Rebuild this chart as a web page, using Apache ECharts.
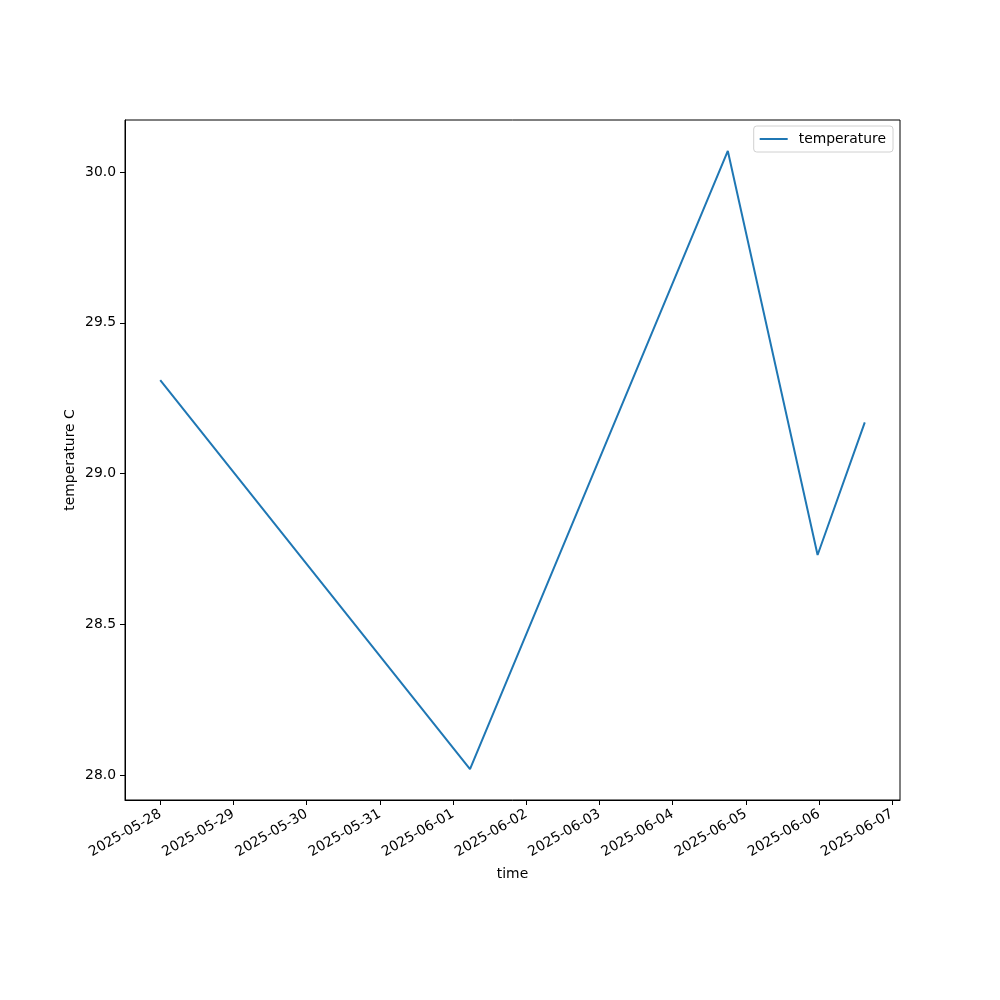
<!DOCTYPE html>
<html>
<head>
<meta charset="utf-8">
<script src="https://cdn.jsdelivr.net/npm/echarts@6/dist/echarts.min.js"></script>
<style>html,body{margin:0;padding:0;background:#fff}#c{width:1000px;height:1000px}</style>
</head>
<body>
<div id="c"></div>
<script>
const times = ['2025-05-28T00:00:00Z','2025-06-01T05:34:00Z','2025-06-04T18:06:00Z','2025-06-05T23:32:00Z','2025-06-06T15:00:00Z'];
const temperature = [29.31, 28.02, 30.07, 28.73, 29.17];
const xTickLabels = ['2025-05-28','2025-05-29','2025-05-30','2025-05-31','2025-06-01','2025-06-02','2025-06-03','2025-06-04','2025-06-05','2025-06-06','2025-06-07'];
const yTicks = [28.0, 28.5, 29.0, 29.5, 30.0];

const tms = times.map(t => new Date(t).getTime());
const xTickVals = xTickLabels.map(d => new Date(d + 'T00:00:00Z').getTime());
const tmin = Math.min(...tms), tmax = Math.max(...tms);
const tspan = tmax - tmin;
const vmin = Math.min(...temperature), vmax = Math.max(...temperature);
const vspan = vmax - vmin;
const pad = n => String(n).padStart(2, '0');
const fmt = v => { const d = new Date(v); return d.getUTCFullYear() + '-' + pad(d.getUTCMonth() + 1) + '-' + pad(d.getUTCDate()); };
const font = 'DejaVu Sans';
const fs = 13.9;

const chart = echarts.init(document.getElementById('c'), null, {renderer: 'canvas'});
chart.setOption({
  animation: false,
  backgroundColor: '#fff',
  textStyle: {fontFamily: font},
  grid: {left: 125, right: 100, top: 120, bottom: 200, show: true, borderColor: '#000', borderWidth: 1, containLabel: false},
  legend: {
    show: true, right: 107, top: 126, orient: 'vertical',
    data: [{name: 'temperature', icon: 'rect'}],
    itemWidth: 28, itemHeight: 2,
    borderColor: '#d0d0d0', borderWidth: 1, borderRadius: 3,
    padding: [6, 7, 6, 6],
    backgroundColor: 'rgba(255,255,255,0.8)',
    textStyle: {fontFamily: font, fontSize: fs, color: '#000', padding: [0, 0, 0, 6]}
  },
  xAxis: {
    type: 'value', min: tmin - 0.05 * tspan, max: tmax + 0.05 * tspan,
    name: 'time', nameLocation: 'middle', nameGap: 67, nameMoveOverlap: false,
    nameTextStyle: {fontFamily: font, fontSize: fs, color: '#000'},
    axisLine: {show: true, onZero: false, lineStyle: {color: '#000', width: 1}},
    axisTick: {show: true, length: 5, customValues: xTickVals, lineStyle: {color: '#000'}},
    axisLabel: {show: true, customValues: xTickVals, rotate: 30, margin: 13, fontFamily: font, fontSize: fs, color: '#000', formatter: v => fmt(v)},
    splitLine: {show: false}
  },
  yAxis: {
    type: 'value', min: vmin - 0.05 * vspan, max: vmax + 0.05 * vspan,
    name: 'temperature C', nameLocation: 'middle', nameGap: 48, nameMoveOverlap: false,
    nameTextStyle: {fontFamily: font, fontSize: fs, color: '#000'},
    axisLine: {show: true, onZero: false, lineStyle: {color: '#000', width: 1}},
    axisTick: {show: true, length: 5, customValues: yTicks, lineStyle: {color: '#000'}},
    axisLabel: {show: true, customValues: yTicks, margin: 9, fontFamily: font, fontSize: fs, color: '#000', formatter: v => v.toFixed(1)},
    splitLine: {show: false}
  },
  series: [{
    name: 'temperature', type: 'line', showSymbol: false, symbol: 'none',
    data: tms.map((t, i) => [t, temperature[i]]),
    lineStyle: {color: '#1f77b4', width: 2},
    itemStyle: {color: '#1f77b4'}
  }]
});
</script>
</body>
</html>
